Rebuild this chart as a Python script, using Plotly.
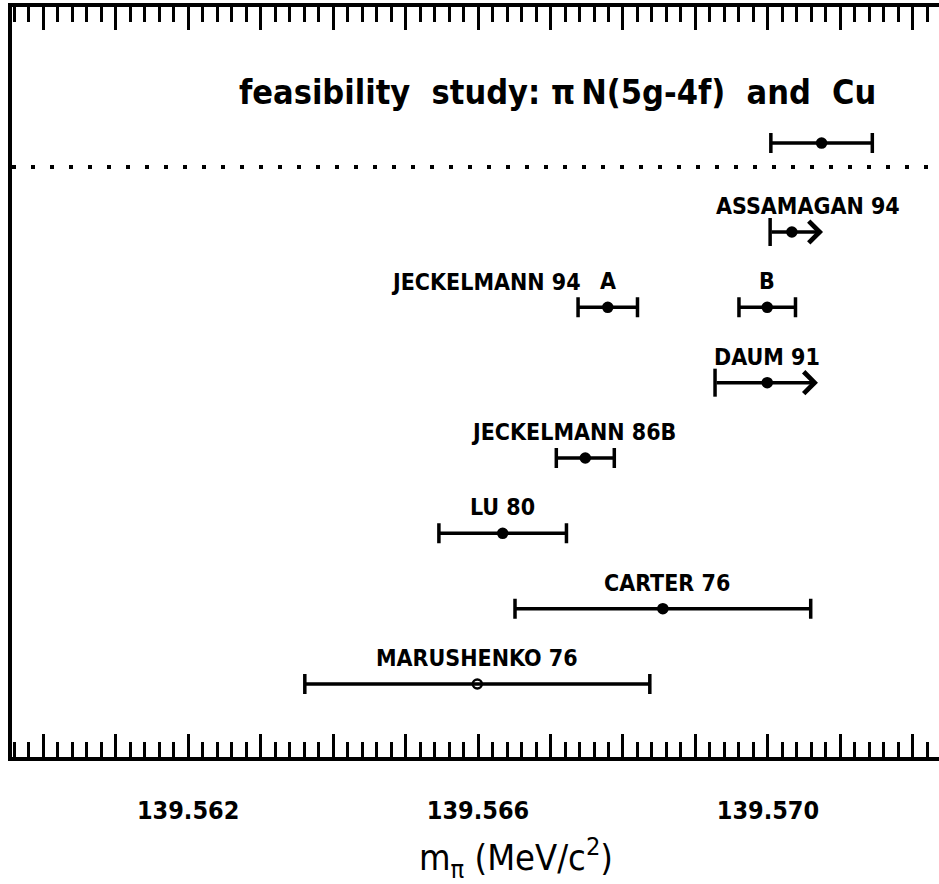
import plotly.graph_objects as go

# ---------------- data ----------------
meas_names = ["feasibility study", "ASSAMAGAN 94", "JECKELMANN 94 A", "JECKELMANN 94 B",
              "DAUM 91", "JECKELMANN 86B", "LU 80", "CARTER 76", "MARUSHENKO 76"]
meas_labels = ["", "ASSAMAGAN 94", "A", "B", "DAUM 91", "JECKELMANN 86B", "LU 80",
               "CARTER 76", "MARUSHENKO 76"]
mass = [139.57074, 139.57033, 139.56779, 139.56999, 139.56999, 139.56748, 139.56634,
        139.56855, 139.56599]
err_lo = [0.00070, 0.00030, 0.00041, 0.00039, 0.00072, 0.00040, 0.00088, 0.00204, 0.00238]
err_hi = [0.00070, None, 0.00041, 0.00039, None, 0.00040, 0.00088, 0.00204, 0.00238]
limit_ext = [None, 0.00043, None, None, 0.00070, None, None, None, None]  # arrow length for lower limits
rows = [-0.18, 1, 2, 2, 3, 4, 5, 6, 7]
open_marker = [False, False, False, False, False, False, False, False, True]

group_label = "JECKELMANN 94"   # shared label for A and B
title_text = "feasibility\u00a0\u00a0study:\u00a0\u03c0\u2009N(5g-4f)\u00a0\u00a0and\u00a0\u00a0Cu"
tick_vals = [139.562, 139.566, 139.570]
tick_labels = ["139.562", "139.566", "139.570"]
major_ticks = [139.560, 139.561, 139.562, 139.563, 139.564, 139.565, 139.566,
               139.567, 139.568, 139.569, 139.570, 139.571, 139.572]
x_range = [139.55957, 139.57236]
y_range = [7.969, -1.987]
separator_row = 0.137

# ---------------- style ----------------
FONT = "DejaVu Sans Condensed, Liberation Sans Narrow, DejaVu Sans, sans-serif"
label_xshift = [0, 16, 0, 0, 0, -12, 0, 4, 0]
LW = 3.5

fig = go.Figure()

# two-sided measurements
for is_open in (False, True):
    idx = [i for i in range(len(mass)) if err_hi[i] is not None and open_marker[i] == is_open]
    fig.add_trace(go.Scatter(
        x=[mass[i] for i in idx], y=[rows[i] for i in idx], mode="markers",
        marker=dict(size=9, symbol="circle-open" if is_open else "circle",
                    color="black", line=dict(color="black", width=2.5)),
        error_x=dict(type="data", symmetric=False,
                     array=[err_hi[i] for i in idx], arrayminus=[err_lo[i] for i in idx],
                     thickness=LW, width=10, color="black"),
        text=[meas_names[i] for i in idx], hoverinfo="text+x", showlegend=False))

# lower limits: lower cap + arrow + point
lim = [i for i in range(len(mass)) if err_hi[i] is None]
fig.add_trace(go.Scatter(
    x=[mass[i] - err_lo[i] for i in lim], y=[rows[i] for i in lim], mode="markers",
    marker=dict(size=20, symbol="line-ns", line=dict(color="black", width=LW)),
    hoverinfo="skip", showlegend=False))
for i in lim:
    fig.add_annotation(x=mass[i] + limit_ext[i], y=rows[i], ax=mass[i] - err_lo[i], ay=rows[i],
                       xref="x", yref="y", axref="x", ayref="y", text="", showarrow=True,
                       arrowhead=4, arrowsize=1.2, arrowwidth=LW, arrowcolor="black",
                       standoff=0, startstandoff=0)
fig.add_trace(go.Scatter(
    x=[mass[i] for i in lim], y=[rows[i] for i in lim], mode="markers",
    marker=dict(size=9, color="black", line=dict(color="black", width=2.5)),
    text=[meas_names[i] for i in lim], hoverinfo="text+x", showlegend=False))

# labels
for i, lab in enumerate(meas_labels):
    if lab:
        fig.add_annotation(x=mass[i], y=rows[i], text=lab, showarrow=False,
                           xanchor="center", yanchor="middle", yshift=26,
                           xshift=label_xshift[i],
                           font=dict(family=FONT, size=23, color="black", weight="bold"))
fig.add_annotation(x=mass[2], y=rows[2], text=group_label, showarrow=False,
                   xanchor="right", yanchor="middle", yshift=25, xshift=-25,
                   font=dict(family=FONT, size=23, color="black", weight="bold"))

# title and separator
fig.add_annotation(x=0.588, y=-0.86, xref="paper", yref="y", text=title_text, showarrow=False,
                   xanchor="center", yanchor="middle",
                   font=dict(family=FONT, size=34, color="black", weight="bold"))
fig.add_shape(type="line", xref="paper", yref="y", x0=0.0, x1=1.0,
              y0=separator_row, y1=separator_row,
              line=dict(color="black", width=4, dash="4px,15px"))

# axis title
fig.add_annotation(x=0.544, y=0, xref="paper", yref="paper", yshift=-101,
                   text="m<sub>\u03c0</sub> (MeV/c<sup>2</sup>)", showarrow=False,
                   xanchor="center", yanchor="middle",
                   font=dict(family=FONT, size=36, color="black"))

# invisible trace for the top axis
fig.add_trace(go.Scatter(x=x_range, y=[rows[1], rows[1]], xaxis="x2", mode="markers",
                         marker=dict(opacity=0), hoverinfo="skip", showlegend=False))

tick_text_all = [tick_labels[tick_vals.index(v)] if v in tick_vals else "" for v in major_ticks]

axis_common = dict(range=x_range, showgrid=False, zeroline=False, showline=True,
                   linecolor="black", linewidth=3.5, ticks="inside", ticklen=23,
                   tickwidth=3, tickcolor="black",
                   tickmode="array", tickvals=major_ticks,
                   minor=dict(dtick=0.0002, tick0=139.562, ticks="inside", ticklen=15,
                              tickwidth=3, tickcolor="black", showgrid=False))

fig.update_layout(
    width=939, height=884,
    margin=dict(l=12, r=0, t=7, b=127),
    paper_bgcolor="white", plot_bgcolor="white",
    xaxis=dict(**axis_common, ticktext=tick_text_all, ticklabelstandoff=28,
               tickfont=dict(family=FONT, size=25, color="black", weight="bold")),
    xaxis2=dict(**axis_common, side="top", overlaying="x", matches="x",
                showticklabels=False),
    yaxis=dict(range=y_range, showgrid=False, zeroline=False, showline=True,
               linecolor="black", linewidth=3.5, showticklabels=False, ticks=""),
)

fig.write_html("out.html")
